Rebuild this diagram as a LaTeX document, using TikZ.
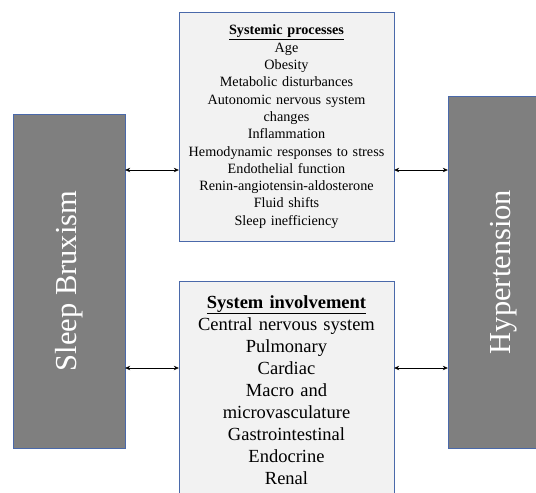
\documentclass[tikz,border=0pt]{standalone}
\usepackage{fontspec}
\setmainfont{Liberation Serif}
\usetikzlibrary{arrows.meta}

\definecolor{edgeblue}{HTML}{4A69AA}
\definecolor{darkfill}{HTML}{7F7F7F}
\definecolor{lightfill}{HTML}{F2F2F2}

\begin{document}
\begin{tikzpicture}[x=1pt, y=-1pt,
  condition/.style={draw=edgeblue, fill=darkfill, text=white, rotate=90,
    inner sep=0pt, font=\fontsize{30.5}{34}\selectfont},
  factors/.style={draw=edgeblue, fill=lightfill, anchor=north, align=center,
    text width=215pt, inner sep=0pt},
  link/.style={{Stealth[length=5pt,width=4.5pt]}-{Stealth[length=5pt,width=4.5pt]}, line width=0.5pt}]
  \useasboundingbox (0,0) rectangle (536,493);
  \clip (0,0) rectangle (536,493);

  % The two conditions
  \node[condition, minimum width=334pt, minimum height=112pt] (bruxism) at (69,281) {Sleep Bruxism};
  \node[condition, minimum width=352pt, minimum height=112pt] (hypertension) at (504,272) {Hypertension};

  % Shared systemic processes
  \node[factors, minimum height=229pt, font=\fontsize{14.2}{17.3}\selectfont] (procs) at (286.5,12)
    {\underline{\textbf{Systemic processes}}\\Age\\Obesity\\Metabolic disturbances\\
     Autonomic nervous system\\changes\\Inflammation\\Hemodynamic responses to stress\\
     Endothelial function\\Renin-angiotensin-aldosterone\\Fluid shifts\\Sleep inefficiency};

  % Organ systems involved
  \node[factors, minimum height=218pt, font=\fontsize{18.5}{22.1}\selectfont] (organs) at (286.5,281)
    {\underline{\textbf{System involvement}}\\Central nervous system\\Pulmonary\\Cardiac\\
     Macro and\\microvasculature\\Gastrointestinal\\Endocrine\\Renal};

  % Two-way links
  \coordinate (upper) at (0,170);
  \coordinate (lower) at (0,368);
  \draw[link] (bruxism.south |- upper) -- (procs.west |- upper);
  \draw[link] (bruxism.south |- lower) -- (organs.west |- lower);
  \draw[link] (procs.east |- upper) -- (hypertension.north |- upper);
  \draw[link] (organs.east |- lower) -- (hypertension.north |- lower);
\end{tikzpicture}
\end{document}
